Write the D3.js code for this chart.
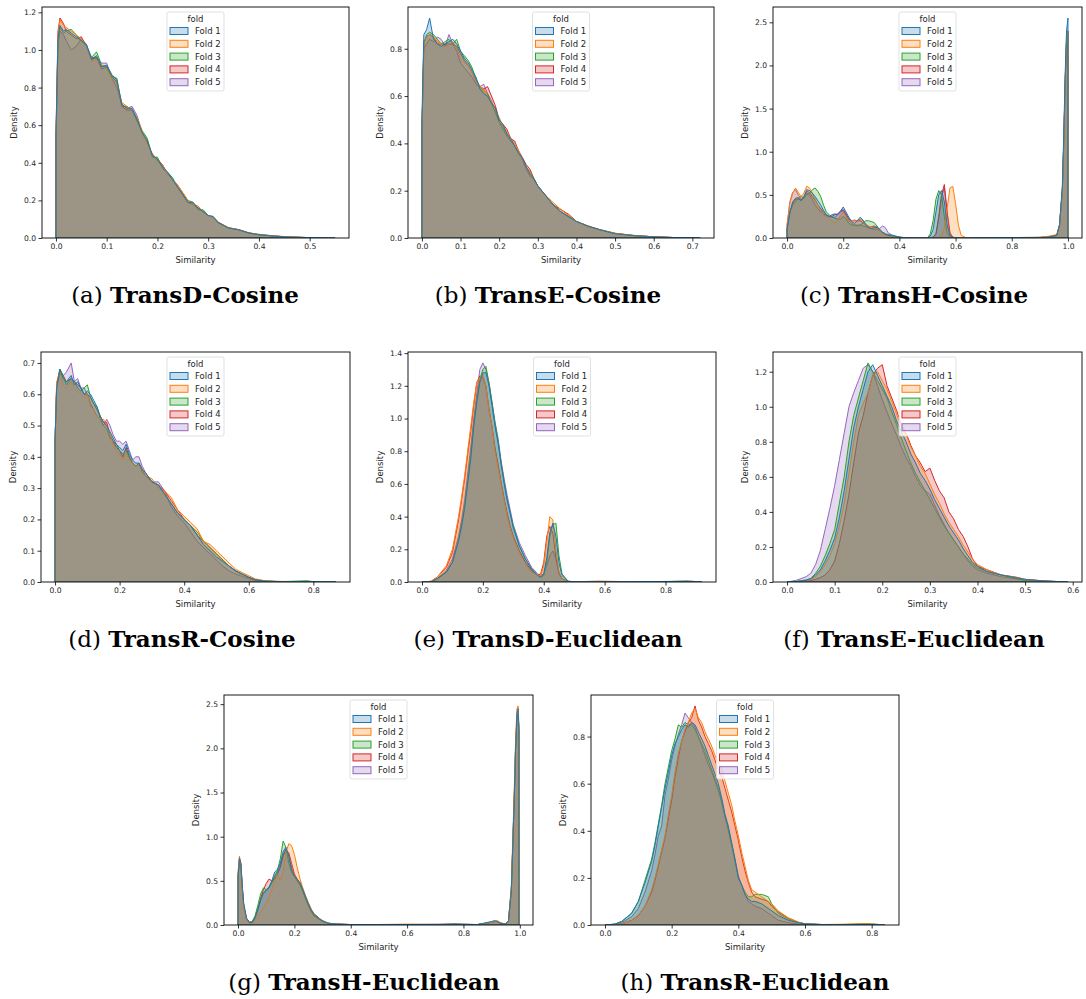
<!DOCTYPE html>
<html>
<head>
<meta charset="utf-8">
<script src="https://cdn.jsdelivr.net/npm/d3@7"></script>
<style>
  body { margin: 0; background: #fff; }
  svg text { font-family: "DejaVu Sans", sans-serif; fill: #262626; }
  .caption { font-family: "DejaVu Serif", serif; fill: #000; }
</style>
</head>
<body>
<div id="fig"></div>
<script>
// density curves, one x grid per panel, one array per fold

// (a) TransD-Cosine
var xA = [0, 0.004, 0.008, 0.015, 0.02, 0.03, 0.04, 0.05, 0.06, 0.07, 0.08, 0.09, 0.1, 0.11, 0.12, 0.13, 0.14, 0.15, 0.16, 0.17, 0.18, 0.19, 0.2, 0.21, 0.22, 0.23, 0.24, 0.25, 0.26, 0.27, 0.28, 0.29, 0.3, 0.31, 0.32, 0.34, 0.36, 0.38, 0.4, 0.43, 0.46, 0.5, 0.55];
var a1 = [0.55, 1.06, 1.13, 1.10, 1.11, 1.09, 1.07, 1.05, 1.03, 0.95, 0.97, 0.91, 0.92, 0.87, 0.84, 0.71, 0.69, 0.69, 0.63, 0.56, 0.52, 0.44, 0.42, 0.38, 0.35, 0.31, 0.27, 0.23, 0.19, 0.19, 0.16, 0.14, 0.12, 0.115, 0.083, 0.053, 0.044, 0.027, 0.018, 0.01, 0.005, 0.002, 0];
var a2 = [0.5, 1.08, 1.16, 1.13, 1.12, 1.10, 1.08, 1.06, 1.02, 0.94, 0.95, 0.92, 0.90, 0.85, 0.82, 0.72, 0.70, 0.68, 0.64, 0.57, 0.50, 0.45, 0.41, 0.39, 0.34, 0.31, 0.28, 0.24, 0.20, 0.18, 0.17, 0.14, 0.12, 0.11, 0.085, 0.055, 0.045, 0.028, 0.02, 0.011, 0.006, 0.002, 0];
var a3 = [0.5, 1.04, 1.12, 1.09, 1.10, 1.11, 1.08, 1.05, 1.02, 0.96, 0.99, 0.92, 0.91, 0.86, 0.85, 0.70, 0.70, 0.68, 0.62, 0.57, 0.53, 0.43, 0.43, 0.37, 0.35, 0.32, 0.27, 0.24, 0.20, 0.19, 0.15, 0.15, 0.12, 0.11, 0.08, 0.055, 0.043, 0.026, 0.017, 0.01, 0.005, 0.002, 0];
var a4 = [0.55, 1.1, 1.17, 1.14, 1.10, 1.08, 1.06, 1.07, 1.02, 0.95, 0.96, 0.90, 0.91, 0.86, 0.83, 0.70, 0.68, 0.68, 0.63, 0.56, 0.51, 0.44, 0.42, 0.39, 0.34, 0.31, 0.28, 0.24, 0.19, 0.18, 0.16, 0.14, 0.12, 0.11, 0.082, 0.054, 0.044, 0.027, 0.018, 0.011, 0.005, 0.002, 0];
var a5 = [0.5, 1.03, 1.10, 1.08, 1.05, 1.0, 1.02, 1.06, 1.03, 0.96, 0.96, 0.93, 0.93, 0.85, 0.80, 0.71, 0.69, 0.70, 0.65, 0.56, 0.51, 0.44, 0.41, 0.38, 0.34, 0.31, 0.27, 0.23, 0.19, 0.18, 0.16, 0.14, 0.12, 0.11, 0.08, 0.053, 0.044, 0.027, 0.018, 0.01, 0.005, 0.002, 0];

// (b) TransE-Cosine
var xB = [0, 0.005, 0.012, 0.02, 0.03, 0.04, 0.05, 0.06, 0.07, 0.08, 0.09, 0.1, 0.11, 0.12, 0.13, 0.14, 0.15, 0.16, 0.17, 0.18, 0.19, 0.2, 0.21, 0.22, 0.23, 0.24, 0.25, 0.26, 0.27, 0.28, 0.29, 0.3, 0.32, 0.34, 0.36, 0.38, 0.4, 0.43, 0.46, 0.5, 0.55, 0.6, 0.65, 0.7, 0.72];
var b1 = [0.5, 0.86, 0.88, 0.93, 0.84, 0.82, 0.81, 0.82, 0.83, 0.84, 0.82, 0.79, 0.76, 0.74, 0.71, 0.68, 0.63, 0.61, 0.60, 0.57, 0.55, 0.50, 0.48, 0.44, 0.42, 0.39, 0.36, 0.34, 0.30, 0.27, 0.25, 0.22, 0.18, 0.14, 0.11, 0.09, 0.07, 0.05, 0.035, 0.018, 0.01, 0.005, 0.002, 0.001, 0];
var b2 = [0.45, 0.82, 0.85, 0.86, 0.85, 0.83, 0.82, 0.81, 0.82, 0.83, 0.80, 0.76, 0.74, 0.73, 0.70, 0.66, 0.64, 0.63, 0.60, 0.58, 0.54, 0.51, 0.47, 0.45, 0.42, 0.40, 0.37, 0.33, 0.30, 0.28, 0.24, 0.22, 0.18, 0.15, 0.12, 0.095, 0.07, 0.052, 0.035, 0.02, 0.011, 0.005, 0.002, 0.001, 0];
var b3 = [0.45, 0.82, 0.86, 0.87, 0.86, 0.84, 0.82, 0.83, 0.84, 0.82, 0.84, 0.79, 0.77, 0.75, 0.72, 0.67, 0.64, 0.62, 0.61, 0.57, 0.53, 0.49, 0.46, 0.43, 0.41, 0.39, 0.36, 0.33, 0.30, 0.28, 0.25, 0.22, 0.18, 0.14, 0.11, 0.09, 0.07, 0.05, 0.036, 0.02, 0.01, 0.005, 0.002, 0.001, 0];
var b4 = [0.45, 0.83, 0.85, 0.86, 0.85, 0.82, 0.82, 0.82, 0.82, 0.82, 0.81, 0.78, 0.75, 0.73, 0.70, 0.67, 0.64, 0.63, 0.64, 0.60, 0.56, 0.50, 0.48, 0.46, 0.42, 0.41, 0.37, 0.34, 0.31, 0.29, 0.25, 0.22, 0.18, 0.14, 0.12, 0.10, 0.07, 0.05, 0.035, 0.019, 0.01, 0.005, 0.002, 0.001, 0];
var b5 = [0.45, 0.80, 0.82, 0.84, 0.83, 0.85, 0.84, 0.81, 0.86, 0.82, 0.79, 0.74, 0.72, 0.70, 0.68, 0.65, 0.64, 0.65, 0.61, 0.58, 0.54, 0.49, 0.47, 0.44, 0.41, 0.39, 0.36, 0.33, 0.29, 0.26, 0.25, 0.22, 0.18, 0.14, 0.11, 0.09, 0.07, 0.05, 0.035, 0.019, 0.01, 0.005, 0.002, 0.001, 0];

// (c) TransH-Cosine
var xC = [0, 0.01, 0.02, 0.03, 0.04, 0.05, 0.06, 0.07, 0.08, 0.09, 0.1, 0.11, 0.12, 0.13, 0.14, 0.15, 0.16, 0.17, 0.18, 0.19, 0.2, 0.21, 0.22, 0.23, 0.24, 0.25, 0.26, 0.27, 0.28, 0.29, 0.3, 0.31, 0.32, 0.33, 0.34, 0.35, 0.36, 0.38, 0.4, 0.42, 0.45, 0.5, 0.51, 0.52, 0.53, 0.54, 0.55, 0.56, 0.57, 0.58, 0.59, 0.6, 0.61, 0.62, 0.64, 0.7, 0.8, 0.9, 0.93, 0.96, 0.97, 0.98, 0.985, 0.99, 0.995, 1.0];
var c1 = [0.1, 0.3, 0.42, 0.46, 0.47, 0.43, 0.48, 0.56, 0.55, 0.52, 0.48, 0.43, 0.38, 0.32, 0.27, 0.25, 0.27, 0.28, 0.27, 0.31, 0.36, 0.3, 0.24, 0.19, 0.17, 0.2, 0.24, 0.21, 0.16, 0.12, 0.11, 0.12, 0.13, 0.1, 0.07, 0.05, 0.04, 0.03, 0.01, 0.003, 0, 0, 0.02, 0.1, 0.3, 0.5, 0.55, 0.42, 0.15, 0.03, 0.005, 0, 0, 0, 0, 0.003, 0.004, 0.006, 0.01, 0.03, 0.15, 0.6, 1.2, 1.9, 2.4, 2.55];
var c2 = [0.15, 0.4, 0.52, 0.58, 0.53, 0.48, 0.52, 0.6, 0.58, 0.52, 0.45, 0.38, 0.32, 0.27, 0.24, 0.22, 0.2, 0.17, 0.2, 0.26, 0.3, 0.25, 0.2, 0.2, 0.21, 0.2, 0.22, 0.2, 0.16, 0.14, 0.13, 0.12, 0.11, 0.09, 0.05, 0.03, 0.02, 0.01, 0.005, 0.001, 0, 0, 0, 0, 0, 0.005, 0.03, 0.12, 0.35, 0.58, 0.6, 0.4, 0.15, 0.03, 0, 0.004, 0.005, 0.01, 0.02, 0.04, 0.15, 0.55, 1.1, 1.8, 2.3, 2.4];
var c3 = [0.1, 0.3, 0.38, 0.42, 0.46, 0.48, 0.47, 0.5, 0.52, 0.56, 0.58, 0.54, 0.48, 0.38, 0.3, 0.27, 0.25, 0.23, 0.22, 0.22, 0.25, 0.22, 0.17, 0.15, 0.15, 0.14, 0.15, 0.17, 0.2, 0.2, 0.19, 0.18, 0.14, 0.09, 0.06, 0.04, 0.03, 0.02, 0.01, 0.003, 0, 0, 0.05, 0.2, 0.45, 0.55, 0.5, 0.25, 0.06, 0.01, 0, 0, 0, 0, 0, 0.003, 0.004, 0.006, 0.01, 0.03, 0.15, 0.55, 1.1, 1.8, 2.3, 2.4];
var c4 = [0.1, 0.3, 0.4, 0.45, 0.45, 0.44, 0.48, 0.54, 0.53, 0.48, 0.44, 0.38, 0.34, 0.3, 0.27, 0.25, 0.25, 0.27, 0.28, 0.31, 0.33, 0.28, 0.22, 0.2, 0.2, 0.2, 0.2, 0.18, 0.15, 0.13, 0.13, 0.14, 0.12, 0.08, 0.06, 0.04, 0.03, 0.02, 0.01, 0.003, 0, 0, 0, 0.01, 0.05, 0.25, 0.5, 0.62, 0.3, 0.06, 0.01, 0, 0, 0, 0, 0.003, 0.004, 0.006, 0.01, 0.03, 0.15, 0.55, 1.1, 1.8, 2.3, 2.4];
var c5 = [0.15, 0.42, 0.53, 0.56, 0.5, 0.45, 0.46, 0.52, 0.5, 0.45, 0.38, 0.34, 0.3, 0.28, 0.26, 0.25, 0.24, 0.24, 0.27, 0.3, 0.32, 0.26, 0.2, 0.17, 0.15, 0.15, 0.15, 0.14, 0.13, 0.12, 0.11, 0.1, 0.1, 0.11, 0.14, 0.12, 0.06, 0.02, 0.005, 0.001, 0, 0, 0, 0.01, 0.04, 0.22, 0.48, 0.58, 0.28, 0.05, 0.01, 0, 0, 0, 0, 0.003, 0.004, 0.006, 0.01, 0.03, 0.15, 0.55, 1.1, 1.8, 2.3, 2.4];

// (d) TransR-Cosine
var xD = [0, 0.005, 0.015, 0.025, 0.035, 0.05, 0.06, 0.07, 0.08, 0.09, 0.1, 0.11, 0.12, 0.13, 0.14, 0.15, 0.16, 0.17, 0.18, 0.19, 0.2, 0.21, 0.22, 0.23, 0.24, 0.25, 0.26, 0.27, 0.28, 0.3, 0.32, 0.34, 0.36, 0.38, 0.4, 0.42, 0.44, 0.46, 0.48, 0.5, 0.52, 0.54, 0.56, 0.58, 0.6, 0.62, 0.65, 0.7, 0.78, 0.8, 0.87];
var d1 = [0.45, 0.62, 0.68, 0.65, 0.64, 0.66, 0.63, 0.64, 0.62, 0.6, 0.61, 0.6, 0.58, 0.56, 0.53, 0.51, 0.5, 0.48, 0.46, 0.44, 0.43, 0.42, 0.44, 0.41, 0.39, 0.38, 0.38, 0.36, 0.35, 0.32, 0.31, 0.28, 0.25, 0.22, 0.2, 0.18, 0.15, 0.12, 0.1, 0.08, 0.065, 0.05, 0.035, 0.025, 0.015, 0.007, 0.003, 0.001, 0.001, 0.001, 0];
var d2 = [0.45, 0.64, 0.67, 0.63, 0.62, 0.64, 0.62, 0.61, 0.6, 0.59, 0.6, 0.56, 0.55, 0.53, 0.52, 0.52, 0.5, 0.47, 0.44, 0.42, 0.41, 0.39, 0.41, 0.39, 0.38, 0.37, 0.37, 0.36, 0.34, 0.33, 0.3, 0.29, 0.27, 0.23, 0.21, 0.19, 0.17, 0.13, 0.12, 0.1, 0.08, 0.06, 0.04, 0.03, 0.02, 0.01, 0.004, 0.002, 0.001, 0.001, 0];
var d3v = [0.45, 0.63, 0.68, 0.66, 0.63, 0.65, 0.64, 0.62, 0.61, 0.62, 0.63, 0.59, 0.57, 0.56, 0.52, 0.5, 0.49, 0.46, 0.45, 0.44, 0.42, 0.41, 0.42, 0.4, 0.38, 0.37, 0.38, 0.35, 0.34, 0.32, 0.31, 0.28, 0.25, 0.22, 0.2, 0.18, 0.16, 0.13, 0.11, 0.09, 0.07, 0.05, 0.035, 0.025, 0.015, 0.008, 0.003, 0.001, 0.004, 0.001, 0];
var d4 = [0.45, 0.63, 0.68, 0.66, 0.64, 0.65, 0.64, 0.63, 0.62, 0.6, 0.6, 0.59, 0.57, 0.55, 0.53, 0.51, 0.51, 0.47, 0.45, 0.43, 0.42, 0.4, 0.43, 0.4, 0.38, 0.37, 0.38, 0.36, 0.34, 0.32, 0.31, 0.29, 0.26, 0.23, 0.2, 0.18, 0.15, 0.13, 0.11, 0.09, 0.07, 0.05, 0.035, 0.025, 0.015, 0.007, 0.003, 0.001, 0.001, 0.001, 0];
var d5 = [0.45, 0.62, 0.67, 0.66, 0.67, 0.7, 0.64, 0.65, 0.62, 0.62, 0.6, 0.57, 0.55, 0.53, 0.52, 0.5, 0.52, 0.5, 0.47, 0.45, 0.45, 0.44, 0.45, 0.42, 0.39, 0.4, 0.4, 0.37, 0.35, 0.32, 0.32, 0.29, 0.24, 0.21, 0.19, 0.16, 0.13, 0.11, 0.09, 0.07, 0.05, 0.035, 0.025, 0.018, 0.01, 0.005, 0.002, 0.001, 0.001, 0.001, 0];

// (e) TransD-Euclidean
var xE = [0, 0.03, 0.05, 0.08, 0.1, 0.12, 0.13, 0.14, 0.15, 0.16, 0.17, 0.18, 0.19, 0.2, 0.21, 0.22, 0.23, 0.24, 0.25, 0.26, 0.27, 0.28, 0.29, 0.3, 0.32, 0.34, 0.36, 0.38, 0.39, 0.4, 0.41, 0.42, 0.43, 0.44, 0.45, 0.46, 0.48, 0.5, 0.58, 0.7, 0.87, 0.89, 0.92];
var e1 = [0, 0.002, 0.02, 0.06, 0.12, 0.25, 0.34, 0.45, 0.6, 0.75, 0.95, 1.1, 1.22, 1.28, 1.28, 1.2, 1.08, 0.95, 0.85, 0.72, 0.6, 0.5, 0.42, 0.33, 0.22, 0.14, 0.08, 0.04, 0.03, 0.05, 0.15, 0.3, 0.36, 0.28, 0.12, 0.04, 0.005, 0.001, 0.001, 0.001, 0.004, 0.003, 0];
var e2 = [0, 0.005, 0.03, 0.1, 0.2, 0.4, 0.52, 0.65, 0.8, 0.95, 1.1, 1.22, 1.25, 1.27, 1.2, 1.05, 0.95, 0.8, 0.7, 0.6, 0.5, 0.4, 0.33, 0.27, 0.18, 0.11, 0.06, 0.04, 0.04, 0.1, 0.25, 0.4, 0.38, 0.2, 0.06, 0.02, 0.003, 0.001, 0.006, 0.001, 0.004, 0.004, 0];
var e3 = [0, 0.002, 0.02, 0.06, 0.12, 0.26, 0.35, 0.47, 0.62, 0.78, 0.97, 1.12, 1.24, 1.3, 1.32, 1.22, 1.1, 0.97, 0.86, 0.73, 0.61, 0.5, 0.42, 0.34, 0.22, 0.14, 0.08, 0.04, 0.03, 0.04, 0.12, 0.28, 0.35, 0.36, 0.16, 0.05, 0.005, 0.001, 0.001, 0.001, 0.005, 0.003, 0];
var e4 = [0, 0.004, 0.03, 0.09, 0.18, 0.38, 0.5, 0.63, 0.78, 0.92, 1.08, 1.22, 1.26, 1.25, 1.2, 1.06, 0.95, 0.82, 0.72, 0.61, 0.51, 0.42, 0.34, 0.28, 0.19, 0.12, 0.07, 0.04, 0.05, 0.12, 0.28, 0.34, 0.3, 0.15, 0.05, 0.02, 0.003, 0.001, 0.001, 0.001, 0.004, 0.004, 0];
var e5 = [0, 0.002, 0.02, 0.07, 0.14, 0.28, 0.38, 0.5, 0.66, 0.82, 1.0, 1.15, 1.3, 1.34, 1.3, 1.22, 1.1, 0.98, 0.88, 0.74, 0.63, 0.53, 0.44, 0.35, 0.24, 0.16, 0.09, 0.05, 0.04, 0.05, 0.1, 0.16, 0.19, 0.14, 0.06, 0.02, 0.003, 0.001, 0.001, 0.001, 0.004, 0.003, 0];

// (f) TransE-Euclidean
var xF = [0, 0.02, 0.04, 0.05, 0.06, 0.07, 0.08, 0.09, 0.1, 0.11, 0.12, 0.13, 0.14, 0.15, 0.16, 0.17, 0.18, 0.19, 0.2, 0.21, 0.22, 0.23, 0.24, 0.25, 0.26, 0.27, 0.28, 0.29, 0.3, 0.31, 0.32, 0.33, 0.34, 0.35, 0.36, 0.37, 0.38, 0.39, 0.4, 0.42, 0.45, 0.48, 0.5, 0.54, 0.59];
var f1 = [0, 0.003, 0.01, 0.02, 0.04, 0.07, 0.12, 0.18, 0.25, 0.37, 0.52, 0.7, 0.88, 1.0, 1.1, 1.2, 1.24, 1.18, 1.12, 1.06, 1.0, 0.92, 0.86, 0.8, 0.73, 0.68, 0.62, 0.58, 0.53, 0.47, 0.42, 0.37, 0.32, 0.28, 0.24, 0.19, 0.15, 0.11, 0.09, 0.06, 0.04, 0.025, 0.015, 0.006, 0];
var f2 = [0, 0.002, 0.008, 0.015, 0.03, 0.06, 0.1, 0.15, 0.22, 0.32, 0.45, 0.62, 0.8, 0.95, 1.02, 1.08, 1.18, 1.2, 1.15, 1.1, 1.03, 0.96, 0.88, 0.84, 0.77, 0.72, 0.66, 0.62, 0.56, 0.5, 0.45, 0.39, 0.34, 0.3, 0.26, 0.21, 0.17, 0.13, 0.1, 0.07, 0.04, 0.028, 0.015, 0.006, 0];
var f3 = [0, 0.004, 0.012, 0.02, 0.05, 0.09, 0.15, 0.22, 0.3, 0.45, 0.6, 0.8, 0.95, 1.05, 1.15, 1.25, 1.2, 1.15, 1.1, 1.05, 0.97, 0.9, 0.82, 0.75, 0.68, 0.62, 0.57, 0.52, 0.47, 0.42, 0.37, 0.32, 0.28, 0.24, 0.2, 0.16, 0.13, 0.1, 0.08, 0.06, 0.04, 0.02, 0.01, 0.005, 0];
var f4 = [0, 0.001, 0.004, 0.008, 0.015, 0.025, 0.04, 0.07, 0.12, 0.22, 0.35, 0.5, 0.68, 0.85, 0.95, 1.08, 1.18, 1.22, 1.24, 1.12, 1.05, 0.98, 0.9, 0.85, 0.78, 0.72, 0.68, 0.63, 0.65, 0.58, 0.52, 0.48, 0.4, 0.36, 0.3, 0.26, 0.2, 0.13, 0.09, 0.07, 0.04, 0.028, 0.015, 0.006, 0];
var f5 = [0, 0.01, 0.03, 0.05, 0.1, 0.18, 0.3, 0.42, 0.55, 0.7, 0.85, 1.0, 1.08, 1.15, 1.22, 1.24, 1.2, 1.12, 1.04, 0.97, 0.9, 0.84, 0.77, 0.71, 0.66, 0.6, 0.55, 0.52, 0.5, 0.44, 0.38, 0.33, 0.28, 0.24, 0.2, 0.16, 0.12, 0.09, 0.07, 0.05, 0.03, 0.018, 0.01, 0.004, 0];

// (g) TransH-Euclidean
var xG = [0, 0.005, 0.01, 0.015, 0.02, 0.03, 0.04, 0.05, 0.06, 0.07, 0.08, 0.09, 0.1, 0.11, 0.12, 0.13, 0.14, 0.15, 0.16, 0.17, 0.18, 0.19, 0.2, 0.21, 0.22, 0.23, 0.24, 0.25, 0.26, 0.27, 0.28, 0.29, 0.3, 0.32, 0.35, 0.4, 0.5, 0.6, 0.7, 0.77, 0.8, 0.85, 0.9, 0.91, 0.92, 0.93, 0.95, 0.96, 0.97, 0.98, 0.985, 0.99, 0.994, 0.997];
var g1 = [0.55, 0.76, 0.7, 0.45, 0.25, 0.08, 0.03, 0.03, 0.08, 0.17, 0.28, 0.36, 0.4, 0.43, 0.5, 0.6, 0.63, 0.7, 0.83, 0.88, 0.78, 0.62, 0.55, 0.52, 0.48, 0.4, 0.32, 0.24, 0.17, 0.12, 0.1, 0.07, 0.05, 0.02, 0.01, 0.005, 0.004, 0.006, 0.005, 0.01, 0.008, 0.005, 0.04, 0.05, 0.04, 0.02, 0.01, 0.05, 0.4, 1.4, 2.0, 2.4, 2.45, 2.2];
var g2 = [0.6, 0.78, 0.68, 0.4, 0.2, 0.06, 0.02, 0.02, 0.05, 0.1, 0.15, 0.2, 0.25, 0.32, 0.4, 0.5, 0.57, 0.5, 0.6, 0.82, 0.92, 0.9, 0.8, 0.65, 0.52, 0.42, 0.33, 0.25, 0.18, 0.13, 0.1, 0.07, 0.05, 0.02, 0.01, 0.005, 0.006, 0.01, 0.006, 0.008, 0.006, 0.005, 0.03, 0.04, 0.05, 0.03, 0.01, 0.05, 0.45, 1.5, 2.1, 2.45, 2.48, 2.25];
var g3 = [0.55, 0.74, 0.68, 0.42, 0.22, 0.07, 0.03, 0.04, 0.1, 0.22, 0.35, 0.42, 0.4, 0.42, 0.48, 0.55, 0.62, 0.75, 0.95, 0.88, 0.7, 0.6, 0.55, 0.5, 0.45, 0.38, 0.3, 0.22, 0.15, 0.1, 0.08, 0.06, 0.04, 0.02, 0.01, 0.005, 0.004, 0.005, 0.004, 0.01, 0.008, 0.005, 0.03, 0.04, 0.04, 0.02, 0.01, 0.05, 0.4, 1.4, 2.0, 2.35, 2.4, 2.2];
var g4 = [0.55, 0.75, 0.7, 0.43, 0.22, 0.07, 0.03, 0.03, 0.08, 0.18, 0.3, 0.4, 0.47, 0.52, 0.5, 0.52, 0.58, 0.65, 0.78, 0.85, 0.82, 0.7, 0.58, 0.52, 0.47, 0.39, 0.3, 0.22, 0.16, 0.11, 0.09, 0.06, 0.04, 0.02, 0.01, 0.005, 0.004, 0.005, 0.004, 0.01, 0.008, 0.005, 0.03, 0.04, 0.04, 0.02, 0.01, 0.05, 0.4, 1.4, 2.0, 2.35, 2.4, 2.2];
var g5 = [0.55, 0.74, 0.68, 0.42, 0.22, 0.07, 0.03, 0.03, 0.08, 0.17, 0.28, 0.36, 0.38, 0.42, 0.48, 0.56, 0.6, 0.68, 0.8, 0.86, 0.8, 0.65, 0.56, 0.5, 0.46, 0.38, 0.3, 0.22, 0.16, 0.11, 0.09, 0.06, 0.04, 0.02, 0.01, 0.005, 0.004, 0.005, 0.01, 0.008, 0.006, 0.005, 0.03, 0.04, 0.04, 0.02, 0.01, 0.05, 0.4, 1.4, 2.0, 2.35, 2.4, 2.2];

// (h) TransR-Euclidean
var xH = [0, 0.03, 0.05, 0.08, 0.1, 0.12, 0.14, 0.15, 0.16, 0.17, 0.18, 0.19, 0.2, 0.21, 0.22, 0.23, 0.24, 0.25, 0.26, 0.27, 0.28, 0.29, 0.3, 0.31, 0.32, 0.33, 0.34, 0.35, 0.36, 0.37, 0.38, 0.39, 0.4, 0.41, 0.42, 0.43, 0.44, 0.45, 0.47, 0.49, 0.5, 0.52, 0.55, 0.58, 0.6, 0.65, 0.7, 0.78, 0.8, 0.84];
var h1 = [0, 0.004, 0.015, 0.05, 0.1, 0.18, 0.27, 0.34, 0.42, 0.5, 0.58, 0.65, 0.72, 0.77, 0.8, 0.83, 0.85, 0.84, 0.86, 0.85, 0.82, 0.79, 0.76, 0.72, 0.68, 0.64, 0.6, 0.54, 0.47, 0.42, 0.35, 0.28, 0.2, 0.17, 0.13, 0.11, 0.1, 0.1, 0.09, 0.07, 0.06, 0.04, 0.02, 0.01, 0.005, 0.002, 0.001, 0.002, 0.002, 0];
var h2 = [0, 0.001, 0.005, 0.02, 0.04, 0.08, 0.15, 0.2, 0.26, 0.32, 0.38, 0.47, 0.55, 0.65, 0.73, 0.78, 0.83, 0.86, 0.9, 0.92, 0.88, 0.86, 0.82, 0.79, 0.76, 0.72, 0.69, 0.66, 0.61, 0.56, 0.51, 0.44, 0.38, 0.31, 0.25, 0.19, 0.15, 0.14, 0.12, 0.1, 0.09, 0.06, 0.03, 0.012, 0.005, 0.002, 0.003, 0.005, 0.004, 0];
var h3 = [0, 0.004, 0.015, 0.05, 0.1, 0.19, 0.28, 0.35, 0.43, 0.51, 0.6, 0.67, 0.74, 0.79, 0.85, 0.84, 0.86, 0.85, 0.85, 0.83, 0.8, 0.77, 0.74, 0.7, 0.66, 0.62, 0.58, 0.53, 0.46, 0.41, 0.34, 0.27, 0.2, 0.17, 0.14, 0.12, 0.12, 0.13, 0.13, 0.12, 0.09, 0.05, 0.025, 0.01, 0.005, 0.002, 0.001, 0.006, 0.005, 0];
var h4 = [0, 0.001, 0.005, 0.02, 0.04, 0.08, 0.14, 0.19, 0.25, 0.31, 0.37, 0.45, 0.53, 0.63, 0.71, 0.78, 0.82, 0.86, 0.88, 0.93, 0.87, 0.84, 0.8, 0.77, 0.74, 0.7, 0.66, 0.63, 0.58, 0.53, 0.48, 0.42, 0.36, 0.29, 0.23, 0.18, 0.14, 0.12, 0.11, 0.1, 0.08, 0.055, 0.03, 0.012, 0.005, 0.002, 0.001, 0.002, 0.002, 0];
var h5 = [0, 0.003, 0.01, 0.035, 0.07, 0.14, 0.23, 0.3, 0.38, 0.42, 0.55, 0.62, 0.7, 0.76, 0.81, 0.85, 0.9, 0.88, 0.86, 0.84, 0.8, 0.76, 0.72, 0.68, 0.65, 0.61, 0.57, 0.52, 0.46, 0.4, 0.34, 0.28, 0.21, 0.17, 0.13, 0.1, 0.09, 0.08, 0.07, 0.05, 0.04, 0.02, 0.01, 0.004, 0.002, 0.001, 0.001, 0.001, 0.001, 0];

// tick labels per panel
var xTicksA = [0, 0.1, 0.2, 0.3, 0.4, 0.5];
var xTicksB = [0, 0.1, 0.2, 0.3, 0.4, 0.5, 0.6, 0.7];
var xTicksC = [0, 0.2, 0.4, 0.6, 0.8, 1.0];
var xTicksD = [0, 0.2, 0.4, 0.6, 0.8];
var xTicksF = [0, 0.1, 0.2, 0.3, 0.4, 0.5, 0.6];
var yTicksA = [0, 0.2, 0.4, 0.6, 0.8, 1.0, 1.2];
var yTicksB = [0, 0.2, 0.4, 0.6, 0.8];
var yTicksC = [0, 0.5, 1.0, 1.5, 2.0, 2.5];
var yTicksD = [0, 0.1, 0.2, 0.3, 0.4, 0.5, 0.6, 0.7];
var yTicksE = [0, 0.2, 0.4, 0.6, 0.8, 1.0, 1.2, 1.4];

var foldNames = ['Fold 1', 'Fold 2', 'Fold 3', 'Fold 4', 'Fold 5'];
var foldColors = ['#1f77b4', '#ff7f0e', '#2ca02c', '#d62728', '#9467bd'];
var captionLetters = ['(a)', '(b)', '(c)', '(d)', '(e)', '(f)', '(g)', '(h)'];
var captionNames = ['TransD-Cosine', 'TransE-Cosine', 'TransH-Cosine', 'TransR-Cosine',
    'TransD-Euclidean', 'TransE-Euclidean', 'TransH-Euclidean', 'TransR-Euclidean'];

var panels = [
    {x: xA, folds: [a1, a2, a3, a4, a5], xt: xTicksA, yt: yTicksA},
    {x: xB, folds: [b1, b2, b3, b4, b5], xt: xTicksB, yt: yTicksB},
    {x: xC, folds: [c1, c2, c3, c4, c5], xt: xTicksC, yt: yTicksC},
    {x: xD, folds: [d1, d2, d3v, d4, d5], xt: xTicksD, yt: yTicksD},
    {x: xE, folds: [e1, e2, e3, e4, e5], xt: xTicksD, yt: yTicksE},
    {x: xF, folds: [f1, f2, f3, f4, f5], xt: xTicksF, yt: yTicksA},
    {x: xG, folds: [g1, g2, g3, g4, g5], xt: xTicksC, yt: yTicksC},
    {x: xH, folds: [h1, h2, h3, h4, h5], xt: xTicksD, yt: yTicksB}
];

// axes boxes in page pixels, and caption anchors
var boxes = [
    {left: 42, right: 349, top: 7, bottom: 238, cx: 185, cy: 303},
    {left: 408, right: 714, top: 7, bottom: 238, cx: 548, cy: 303},
    {left: 773, right: 1082, top: 7, bottom: 238, cx: 914, cy: 303},
    {left: 41, right: 350, top: 352, bottom: 582, cx: 182, cy: 647},
    {left: 408, right: 716, top: 352, bottom: 582, cx: 548, cy: 647},
    {left: 773, right: 1082, top: 352, bottom: 582, cx: 914, cy: 647},
    {left: 224, right: 533, top: 695, bottom: 925, cx: 364, cy: 990},
    {left: 591, right: 899, top: 695, bottom: 925, cx: 755, cy: 990}
];

var svg = d3.select('#fig')
    .append('svg')
    .attr('width', 1086)
    .attr('height', 999);

var fmt = d3.format('.1f');

panels.forEach(function(p, i) {
    var b = boxes[i];
    var g = svg.append('g');

    // matplotlib style 5% margins on x, density starts at 0 on y
    var xMin = d3.min(p.x), xMax = d3.max(p.x);
    var pad = (xMax - xMin) * 0.05;
    var x_scale = d3.scaleLinear().domain([xMin - pad, xMax + pad]).range([b.left, b.right]);
    var yMax = d3.max(p.folds, function(f) { return d3.max(f); });
    var y_scale = d3.scaleLinear().domain([0, yMax * 1.05]).range([b.bottom, b.top]);

    var clipId = 'clip' + i;
    svg.append('clipPath').attr('id', clipId)
        .append('rect')
        .attr('x', b.left).attr('y', b.top)
        .attr('width', b.right - b.left).attr('height', b.bottom - b.top);

    var area = d3.area()
        .x(function(d, k) { return x_scale(p.x[k]); })
        .y0(y_scale(0))
        .y1(function(d) { return y_scale(d); });

    // seaborn draws the last hue level first
    var order = [4, 3, 2, 1, 0];
    g.append('g').attr('clip-path', 'url(#' + clipId + ')')
        .selectAll('path')
        .data(order)
        .enter()
        .append('path')
        .attr('d', function(k) { return area(p.folds[k]); })
        .attr('fill', function(k) { return foldColors[k]; })
        .attr('fill-opacity', 0.25)
        .attr('stroke', function(k) { return foldColors[k]; })
        .attr('stroke-width', 1)
        .attr('stroke-linejoin', 'round');

    // axes
    var x_axis = d3.axisBottom(x_scale).tickValues(p.xt).tickFormat(fmt).tickSize(3.5).tickPadding(2.5);
    var y_axis = d3.axisLeft(y_scale).tickValues(p.yt).tickFormat(fmt).tickSize(3.5).tickPadding(2.5);

    var gx = g.append('g')
        .attr('transform', 'translate(0,' + b.bottom + ')')
        .call(x_axis);
    var gy = g.append('g')
        .attr('transform', 'translate(' + b.left + ',0)')
        .call(y_axis);
    [gx, gy].forEach(function(ax) {
        ax.select('.domain').remove();
        ax.selectAll('line').attr('stroke', '#000').attr('stroke-width', 0.8);
        ax.selectAll('text').attr('font-size', 7.6).attr('fill', '#262626')
            .attr('font-family', '"DejaVu Sans", sans-serif');
    });

    g.append('rect')
        .attr('x', b.left).attr('y', b.top)
        .attr('width', b.right - b.left).attr('height', b.bottom - b.top)
        .attr('fill', 'none')
        .attr('stroke', '#000')
        .attr('stroke-width', 0.9);

    // axis labels
    g.append('text')
        .attr('x', (b.left + b.right) / 2)
        .attr('y', b.bottom + 24.5)
        .attr('text-anchor', 'middle')
        .attr('font-size', 8.5)
        .text('Similarity');

    g.append('text')
        .attr('transform', 'rotate(-90)')
        .attr('x', -(b.top + b.bottom) / 2)
        .attr('y', b.left - 25)
        .attr('text-anchor', 'middle')
        .attr('font-size', 8.5)
        .text('Density');

    // legend, upper center
    var lw = 57, lh = 79;
    var lx = (b.left + b.right) / 2 - lw / 2;
    var ly = b.top + 5;
    var leg = g.append('g').attr('transform', 'translate(' + lx + ',' + ly + ')');
    leg.append('rect')
        .attr('width', lw).attr('height', lh)
        .attr('rx', 2)
        .attr('fill', '#fff').attr('fill-opacity', 0.8)
        .attr('stroke', '#d9d9d9').attr('stroke-width', 0.8);
    leg.append('text')
        .attr('x', lw / 2).attr('y', 9.8)
        .attr('text-anchor', 'middle')
        .attr('font-size', 8.5)
        .text('fold');
    foldNames.forEach(function(name, k) {
        var cy = 19 + k * 12.8;
        leg.append('rect')
            .attr('x', 3).attr('y', cy - 3.5)
            .attr('width', 18).attr('height', 7)
            .attr('fill', foldColors[k]).attr('fill-opacity', 0.25)
            .attr('stroke', foldColors[k]).attr('stroke-width', 1);
        leg.append('text')
            .attr('x', 28).attr('y', cy + 3)
            .attr('font-size', 8.5)
            .text(name);
    });

    // caption below the panel
    var cap = svg.append('text')
        .attr('class', 'caption')
        .attr('x', b.cx)
        .attr('y', b.cy)
        .attr('text-anchor', 'middle')
        .attr('font-size', 23);
    cap.append('tspan').text(captionLetters[i] + ' ');
    cap.append('tspan').attr('font-weight', 'bold').text(captionNames[i]);
});
</script>
</body>
</html>
